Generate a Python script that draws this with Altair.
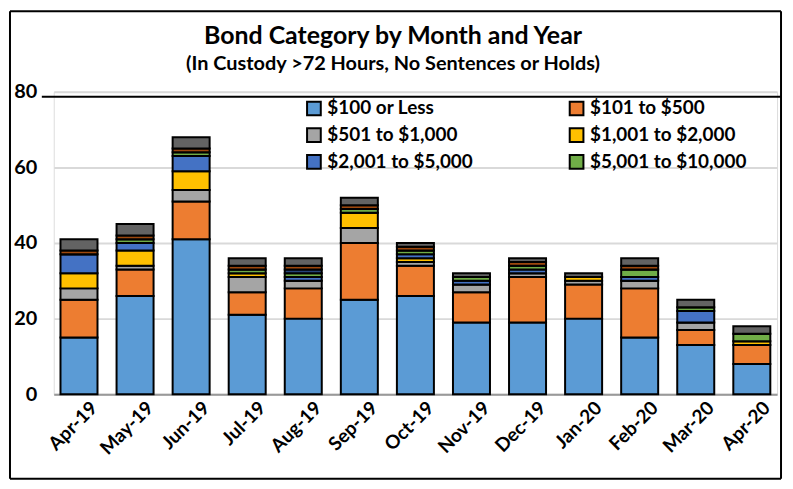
import altair as alt
import pandas as pd

months = ["Apr-19", "May-19", "Jun-19", "Jul-19", "Aug-19", "Sep-19", "Oct-19",
          "Nov-19", "Dec-19", "Jan-20", "Feb-20", "Mar-20", "Apr-20"]

categories = ["$100 or Less", "$101 to $500", "$501 to $1,000", "$1,001 to $2,000",
              "$2,001 to $5,000", "$5,001 to $10,000", "$10,001 to $25,000",
              "$25,001 to $50,000", "Over $50,000"]
colors = ["#5B9BD5", "#ED7D31", "#A5A5A5", "#FFC000", "#4472C4", "#70AD47",
          "#264478", "#9E480E", "#636363"]

v_100 =    [15, 26, 41, 21, 20, 25, 26, 19, 19, 20, 15, 13, 8]
v_500 =    [10, 7, 10, 6, 8, 15, 8, 8, 12, 9, 13, 4, 5]
v_1000 =   [3, 1, 3, 4, 2, 4, 1, 2, 1, 1, 2, 2, 0]
v_2000 =   [4, 4, 5, 1, 0, 4, 1, 0, 0, 1, 0, 0, 1]
v_5000 =   [5, 2, 4, 0, 1, 0, 1, 1, 1, 0, 1, 3, 0]
v_10000 =  [0, 1, 1, 1, 1, 1, 1, 1, 1, 0, 2, 1, 2]
v_25000 =  [0, 0, 0, 0, 1, 0, 0, 0, 0, 0, 0, 0, 0]
v_50000 =  [1, 1, 1, 1, 1, 1, 1, 0, 1, 0, 1, 0, 0]
v_over =   [3, 3, 3, 2, 2, 2, 1, 1, 1, 1, 2, 2, 2]

series = [v_100, v_500, v_1000, v_2000, v_5000, v_10000, v_25000, v_50000, v_over]

title_text = "Bond Category by Month and Year"
subtitle_text = "(In Custody >72 Hours, No Sentences or Holds)"

rows = []
for ci, (cat, vals) in enumerate(zip(categories, series)):
    for m, v in zip(months, vals):
        rows.append({"Month": m, "Category": cat, "Count": v, "idx": ci})
df = pd.DataFrame(rows)

FONT = "Lato"
legend_vals = [categories[0], categories[2], categories[4],
               categories[1], categories[3], categories[5]]

bars = alt.Chart(df).mark_bar(stroke="black", strokeWidth=2).encode(
    x=alt.X("Month:N", sort=months, title=None,
            scale=alt.Scale(paddingInner=0.34, paddingOuter=0.12),
            axis=alt.Axis(labelAngle=-45, labelAlign="right", labelBaseline="top",
                          labelFontSize=19, labelFontWeight="bold", labelColor="black",
                          labelFont=FONT, ticks=False, domainColor="#999999",
                          domainWidth=2, labelPadding=4, labelOffset=9)),
    y=alt.Y("Count:Q", title=None, stack="zero",
            scale=alt.Scale(domain=[0, 80]),
            axis=alt.Axis(values=[0, 20, 40, 60, 80], labelFontSize=20,
                          labelFontWeight="bold", labelColor="black", labelFont=FONT,
                          ticks=False, domain=False, gridColor="#d9d9d9", gridWidth=2,
                          labelPadding=17)),
    color=alt.Color("Category:N", sort=categories,
                    scale=alt.Scale(domain=categories, range=colors),
                    legend=alt.Legend(values=legend_vals, title=None, orient="none",
                                      legendX=252, legendY=7, columns=2,
                                      columnPadding=92, rowPadding=4,
                                      symbolType="square", symbolSize=190,
                                      symbolStrokeColor="black", symbolStrokeWidth=2,
                                      labelFontSize=19, labelFontWeight="bold",
                                      labelFont=FONT, labelColor="black",
                                      labelLimit=300, symbolOffset=0)),
    order=alt.Order("idx:Q", sort="ascending"),
)

frame_df = pd.DataFrame({"a": [0]})
base = alt.Chart(frame_df)
frame_left = base.mark_rule(color="black", strokeWidth=2).encode(
    x=alt.value(-44), y=alt.value(-81), y2=alt.value(389))
frame_right = base.mark_rule(color="black", strokeWidth=2).encode(
    x=alt.value(731), y=alt.value(-81), y2=alt.value(389))
frame_top = base.mark_rule(color="black", strokeWidth=2).encode(
    x=alt.value(-44), x2=alt.value(731), y=alt.value(-81))
frame_bottom = base.mark_rule(color="black", strokeWidth=2).encode(
    x=alt.value(-44), x2=alt.value(731), y=alt.value(389))
topline = base.mark_rule(color="black", strokeWidth=2).encode(
    x=alt.value(-12), x2=alt.value(731), y=alt.value(5))

title = base.mark_text(fontSize=25, fontWeight="bold", font=FONT, color="black",
                       align="center", baseline="middle").encode(
    x=alt.value(341), y=alt.value(-56), text=alt.value(title_text))
subtitle = base.mark_text(fontSize=20, fontWeight="bold", font=FONT, color="black",
                          align="center", baseline="middle").encode(
    x=alt.value(341), y=alt.value(-28), text=alt.value(subtitle_text))

chart = alt.layer(frame_left, frame_right, frame_top, frame_bottom, topline,
                  title, subtitle, bars).properties(
    width=727, height=304,
    padding={"left": 46, "top": 83, "right": 8, "bottom": 88},
    autosize=alt.AutoSizeParams(type="none"),
).configure_view(stroke=None).configure(background="white")

chart.save("out.html", embed_options={"renderer": "svg", "actions": False})
